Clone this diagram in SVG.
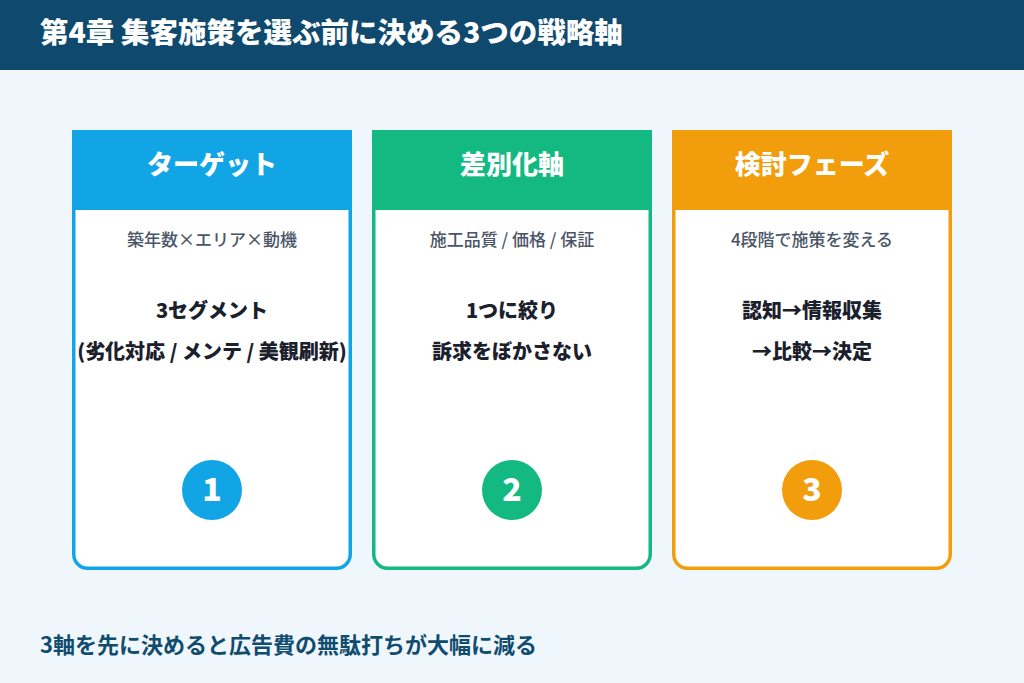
<svg xmlns="http://www.w3.org/2000/svg" width="1024" height="683" viewBox="0 0 1024 683">
<style>
text{font-family:"Noto Sans CJK JP","Noto Sans",sans-serif;text-anchor:middle}
.title{font-size:28.5px;font-weight:900;fill:#fff;text-anchor:start}
.head{font-size:26px;font-weight:900;fill:#fff}
.sub{font-size:17px;font-weight:500;fill:#4a5568}
.main{font-size:20px;font-weight:900;fill:#1a202c}
.num{font-size:32px;font-weight:900;fill:#fff}
.foot{font-size:22px;font-weight:700;fill:#0f4c6e;text-anchor:start}
.card{fill:#fff;stroke-width:3.5}
</style>
<rect width="1024" height="683" fill="#eff7fd"/>
<rect width="1024" height="70" fill="#0f4a6e"/>
<text class="title" x="40" y="43">第4章 集客施策を選ぶ前に決める3つの戦略軸</text>
<g id="card1">
<rect class="card" x="73.75" y="131.75" width="276.5" height="436.5" rx="14" stroke="#12a5e6"/>
<rect x="72" y="130" width="280" height="80" fill="#12a5e6"/>
<text class="head" x="212" y="174">ターゲット</text>
<text class="sub" x="212" y="246">築年数×エリア×動機</text>
<text class="main" x="212" y="318">3セグメント</text>
<text class="main" x="212" y="359">(劣化対応 / メンテ / 美観刷新)</text>
<circle cx="212" cy="490" r="30" fill="#12a5e6"/>
<text class="num" x="212" y="501">1</text>
</g>
<g id="card2">
<rect class="card" x="373.75" y="131.75" width="276.5" height="436.5" rx="14" stroke="#13b981"/>
<rect x="372" y="130" width="280" height="80" fill="#13b981"/>
<text class="head" x="512" y="174">差別化軸</text>
<text class="sub" x="512" y="246">施工品質 / 価格 / 保証</text>
<text class="main" x="512" y="318">1つに絞り</text>
<text class="main" x="512" y="359">訴求をぼかさない</text>
<circle cx="512" cy="490" r="30" fill="#13b981"/>
<text class="num" x="512" y="501">2</text>
</g>
<g id="card3">
<rect class="card" x="673.75" y="131.75" width="276.5" height="436.5" rx="14" stroke="#f29e0c"/>
<rect x="672" y="130" width="280" height="80" fill="#f29e0c"/>
<text class="head" x="812" y="174">検討フェーズ</text>
<text class="sub" x="812" y="246">4段階で施策を変える</text>
<text class="main" x="812" y="318">認知→情報収集</text>
<text class="main" x="812" y="359">→比較→決定</text>
<circle cx="812" cy="490" r="30" fill="#f29e0c"/>
<text class="num" x="812" y="501">3</text>
</g>
<g id="connectors"/>
<text class="foot" x="40" y="653">3軸を先に決めると広告費の無駄打ちが大幅に減る</text>
</svg>
